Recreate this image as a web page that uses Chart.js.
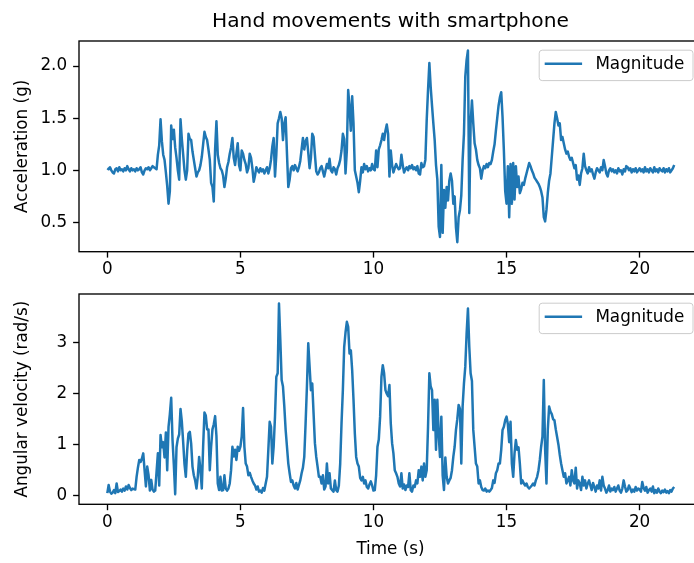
<!DOCTYPE html>
<html>
<head>
<meta charset="utf-8">
<title>Hand movements with smartphone</title>
<script src="https://cdn.jsdelivr.net/npm/chart.js@4.4.1/dist/chart.umd.min.js"></script>
<style>
  html, body { margin: 0; padding: 0; background: #fff; overflow: hidden; }
  body { width: 694px; height: 563px; position: relative; }
  canvas { position: absolute; left: 0; }
  #accelChart { top: 0; }
  #gyroChart { top: 263px; }
</style>
</head>
<body>
<canvas id="accelChart" width="702" height="280"></canvas>
<canvas id="gyroChart" width="702" height="300"></canvas>
<script>
// Smartphone sensor recording, sampled every 50 ms
const chartTitle = 'Hand movements with smartphone';
const seriesLabel = 'Magnitude';
const sampleStep = 0.05; // seconds between samples

const timeTicks = [0, 5, 10, 15, 20];
const accelTicks = [0.5, 1.0, 1.5, 2.0];
const gyroTicks = [0, 1, 2, 3];

// acceleration magnitude (g), one row per second
const accelMagnitude = [
  1.02, 1.01, 1.03, 1.00, 0.98, 0.97, 1.01, 1.02, 0.99, 1.03, 1.00, 1.01, 0.99, 1.02, 1.00, 1.04, 1.01, 0.99, 1.02, 1.00,
  1.01, 0.99, 1.02, 1.00, 1.01, 1.03, 0.98, 0.96, 1.00, 1.02, 1.01, 1.03, 1.00, 1.02, 1.04, 1.03, 1.02, 1.01, 1.15, 1.24,
  1.49, 1.28, 1.15, 1.10, 0.98, 0.85, 0.68, 0.80, 1.43, 1.30, 1.39, 1.22, 1.12, 1.00, 0.91, 1.49, 1.30, 1.15, 1.00, 0.91,
  1.00, 1.35, 1.30, 1.29, 1.18, 1.10, 1.02, 0.94, 0.98, 1.00, 1.05, 1.13, 1.25, 1.37, 1.32, 1.29, 1.20, 1.10, 0.88, 0.84,
  0.70, 1.20, 1.47, 1.15, 1.07, 1.02, 1.00, 0.95, 0.84, 0.92, 1.03, 1.08, 1.16, 1.22, 1.31, 1.12, 1.05, 1.16, 1.26, 1.05,
  1.00, 1.19, 1.16, 1.10, 1.06, 0.98, 1.02, 1.16, 1.12, 1.02, 0.89, 0.95, 1.03, 1.00, 0.98, 1.02, 0.99, 1.01, 0.97, 1.00,
  1.03, 0.97, 1.02, 1.10, 1.23, 1.31, 0.94, 1.15, 1.45, 1.50, 1.56, 1.50, 1.29, 1.45, 1.51, 1.16, 0.84, 0.91, 1.02, 1.04,
  1.00, 1.05, 1.02, 0.99, 1.03, 1.09, 1.20, 1.31, 1.20, 1.28, 1.31, 1.17, 1.02, 1.12, 1.35, 1.32, 1.15, 0.99, 0.96, 0.98,
  1.02, 1.04, 0.99, 0.94, 1.00, 1.06, 1.02, 1.11, 1.00, 0.98, 1.03, 1.01, 0.96, 1.02, 1.05, 1.10, 1.19, 1.35, 1.30, 0.97,
  1.19, 1.77, 1.61, 1.38, 1.71, 1.45, 1.00, 0.94, 0.88, 0.79, 0.90, 1.03, 0.98, 1.06, 1.01, 1.04, 0.99, 1.02, 1.00, 1.06,
  1.01, 1.00, 1.19, 1.03, 1.20, 1.24, 1.29, 1.35, 1.29, 1.38, 1.44, 1.35, 0.94, 1.19, 1.05, 0.98, 1.02, 1.06, 1.03, 1.01,
  1.02, 1.15, 1.05, 0.98, 1.01, 1.03, 1.00, 1.04, 1.02, 1.05, 1.01, 1.03, 1.00, 1.04, 0.97, 0.96, 1.07, 1.03, 1.04, 1.10,
  1.48, 1.77, 2.03, 1.80, 1.62, 1.45, 1.29, 1.05, 0.91, 0.46, 0.36, 1.05, 0.40, 0.81, 0.64, 0.84, 0.71, 0.90, 0.97, 0.90,
  0.68, 0.75, 0.45, 0.31, 0.55, 0.62, 0.76, 1.10, 1.35, 1.90, 2.06, 2.15, 0.59, 1.45, 1.67, 1.45, 1.26, 1.20, 1.10, 1.05,
  1.02, 0.92, 1.00, 1.04, 1.02, 1.06, 1.03, 1.07, 1.06, 1.10, 1.18, 1.25, 1.38, 1.50, 1.62, 1.70, 1.75, 1.51, 1.19, 0.80,
  0.68, 1.04, 0.55, 1.06, 0.68, 1.07, 0.72, 1.04, 0.84, 0.94, 0.78, 0.82, 0.88, 0.86, 0.92, 0.97, 1.02, 1.07, 1.04, 1.00,
  0.97, 0.93, 0.91, 0.89, 0.87, 0.84, 0.80, 0.74, 0.55, 0.51, 0.62, 0.78, 0.90, 0.97, 1.13, 1.29, 1.45, 1.56, 1.50, 1.43,
  1.45, 1.29, 1.32, 1.26, 1.20, 1.16, 1.18, 1.13, 1.10, 1.12, 1.07, 1.02, 1.05, 0.91, 0.95, 0.86, 0.97, 1.02, 1.16, 1.04,
  1.00, 0.97, 1.03, 0.99, 1.01, 0.96, 0.92, 0.98, 1.02, 1.00, 0.98, 1.03, 1.00, 1.10, 1.04, 0.97, 0.94, 1.00, 1.02, 0.99,
  1.01, 0.98, 1.00, 0.97, 1.02, 0.99, 1.00, 0.96, 1.01, 0.99, 1.04, 1.03, 1.00, 1.02, 0.98, 1.01, 0.99, 1.02, 0.98, 1.00,
  1.02, 0.99, 1.01, 0.98, 1.03, 0.99, 1.01, 0.98, 1.02, 1.00, 0.98, 1.03, 0.99, 1.01, 0.98, 1.02, 1.00, 0.99, 1.02, 0.98,
  1.01, 0.99, 1.02, 0.98, 1.00, 1.02, 1.05
];

// angular velocity magnitude (rad/s), one row per second
const gyroMagnitude = [
  0.05, 0.21, 0.08, 0.04, 0.06, 0.11, 0.05, 0.24, 0.07, 0.09, 0.12, 0.08, 0.14, 0.10, 0.18, 0.12, 0.21, 0.15, 0.11, 0.14,
  0.13, 0.12, 0.37, 0.55, 0.70, 0.66, 0.73, 0.83, 0.50, 0.18, 0.57, 0.40, 0.10, 0.31, 0.12, 0.08, 0.10, 0.47, 0.83, 0.20,
  1.19, 0.95, 1.05, 0.75, 1.24, 0.50, 1.35, 1.60, 1.92, 1.09, 0.60, 0.03, 0.95, 1.12, 1.20, 1.70, 1.45, 1.05, 0.62, 0.37,
  0.88, 1.22, 1.25, 1.02, 0.57, 0.40, 0.30, 0.14, 0.38, 0.76, 0.50, 0.14, 0.96, 1.63, 1.57, 1.30, 1.30, 0.50, 0.96, 1.30,
  1.40, 1.56, 1.17, 0.24, 0.11, 0.37, 0.10, 0.11, 0.40, 0.14, 0.10, 0.14, 0.24, 0.50, 0.96, 0.77, 0.90, 0.70, 0.96, 0.88,
  0.96, 1.16, 1.72, 0.96, 0.63, 0.57, 0.40, 0.45, 0.37, 0.30, 0.24, 0.20, 0.12, 0.18, 0.08, 0.10, 0.06, 0.15, 0.10, 0.24,
  0.37, 0.90, 1.45, 1.35, 0.63, 0.96, 1.55, 2.33, 2.40, 3.77, 3.05, 2.27, 2.14, 1.75, 1.29, 0.96, 0.63, 0.44, 0.27, 0.30,
  0.20, 0.14, 0.25, 0.12, 0.21, 0.30, 0.44, 0.55, 0.76, 1.42, 2.14, 2.99, 2.53, 2.07, 2.20, 1.61, 1.03, 0.76, 0.57, 0.37,
  0.37, 0.24, 0.40, 0.12, 0.18, 0.63, 0.24, 0.44, 0.14, 0.11, 0.08, 0.30, 0.11, 0.08, 0.20, 0.63, 1.42, 2.07, 2.92, 3.20,
  3.41, 3.31, 2.79, 2.85, 2.46, 1.88, 1.22, 0.76, 0.63, 0.57, 0.35, 0.30, 0.37, 0.24, 0.30, 0.17, 0.14, 0.22, 0.28, 0.20,
  0.10, 0.11, 0.40, 0.96, 1.10, 1.55, 2.33, 2.56, 2.40, 2.07, 2.00, 1.95, 2.17, 1.42, 1.03, 0.83, 0.50, 0.44, 0.37, 0.24,
  0.18, 0.44, 0.14, 0.22, 0.11, 0.20, 0.17, 0.44, 0.11, 0.08, 0.20, 0.17, 0.30, 0.24, 0.50, 0.37, 0.57, 0.30, 0.63, 0.37,
  0.50, 1.35, 2.40, 2.14, 2.07, 1.29, 1.88, 0.90, 1.88, 1.20, 0.76, 1.55, 0.40, 0.11, 0.75, 0.37, 0.24, 0.30, 0.35, 0.50,
  0.76, 0.96, 1.29, 1.50, 1.78, 1.70, 0.63, 1.75, 2.20, 2.53, 3.18, 3.67, 2.92, 2.40, 2.25, 1.29, 0.96, 0.63, 0.57, 0.24,
  0.30, 0.17, 0.11, 0.10, 0.14, 0.08, 0.10, 0.08, 0.11, 0.15, 0.30, 0.25, 0.44, 0.50, 0.63, 0.63, 0.90, 1.29, 1.35, 1.48,
  1.55, 1.40, 1.05, 1.45, 0.63, 0.37, 0.83, 1.09, 0.90, 0.95, 0.63, 0.24, 0.30, 0.24, 0.20, 0.24, 0.17, 0.14, 0.17, 0.20,
  0.24, 0.20, 0.30, 0.37, 0.50, 0.70, 0.96, 1.16, 2.27, 0.90, 0.24, 1.29, 1.75, 1.65, 1.60, 1.50, 1.48, 1.30, 1.15, 1.00,
  0.80, 0.63, 0.50, 0.37, 0.44, 0.24, 0.30, 0.37, 0.20, 0.50, 0.30, 0.24, 0.55, 0.14, 0.30, 0.24, 0.11, 0.37, 0.20, 0.30,
  0.14, 0.24, 0.30, 0.20, 0.11, 0.25, 0.17, 0.08, 0.20, 0.14, 0.30, 0.10, 0.37, 0.20, 0.14, 0.06, 0.11, 0.20, 0.08, 0.14,
  0.11, 0.17, 0.08, 0.14, 0.20, 0.10, 0.06, 0.14, 0.30, 0.18, 0.08, 0.11, 0.20, 0.14, 0.07, 0.12, 0.08, 0.17, 0.10, 0.14,
  0.12, 0.08, 0.27, 0.15, 0.10, 0.17, 0.06, 0.11, 0.14, 0.08, 0.18, 0.05, 0.11, 0.06, 0.14, 0.08, 0.05, 0.10, 0.07, 0.12,
  0.06, 0.09, 0.05, 0.11, 0.08, 0.14, 0.17
];

const FONT = "'DejaVu Sans', sans-serif";
const LABEL_SIZE = 16.8;
const TITLE_SIZE = 20.2;
const LINE_BLUE = '#1f77b4';
const LINE_W = 2.5;
const SPINE_W = 1.35;

Chart.defaults.font.family = FONT;
Chart.defaults.color = '#000';

// black box around the plot area, title above it and a framed legend inside it
const axesDecor = {
  id: 'axesDecor',
  afterDraw(chart, args, opts) {
    const { ctx, chartArea: a } = chart;
    ctx.save();
    ctx.strokeStyle = '#000';
    ctx.lineWidth = SPINE_W;
    ctx.strokeRect(a.left, a.top, a.right - a.left, a.bottom - a.top);

    if (opts.title) {
      ctx.font = TITLE_SIZE + 'px ' + FONT;
      ctx.fillStyle = '#000';
      ctx.textAlign = 'center';
      ctx.textBaseline = 'alphabetic';
      ctx.fillText(opts.title, (a.left + a.right) / 2, a.top - 14.5);
    }

    const ds = chart.data.datasets[0];
    ctx.font = LABEL_SIZE + 'px ' + FONT;
    const textW = ctx.measureText(ds.label).width;
    const boxW = 5.5 + 37.4 + 13.3 + textW + 8.7;
    const boxH = 30.4;
    const right = a.right - 9;
    const top = a.top + 9.2;
    const left = right - boxW;
    ctx.beginPath();
    ctx.roundRect(left, top, boxW, boxH, 3);
    ctx.fillStyle = 'rgba(255,255,255,0.8)';
    ctx.fill();
    ctx.strokeStyle = '#cccccc';
    ctx.lineWidth = 1;
    ctx.stroke();

    const midY = top + 13.5;
    ctx.beginPath();
    ctx.moveTo(left + 5.5, midY);
    ctx.lineTo(left + 42.9, midY);
    ctx.strokeStyle = ds.borderColor;
    ctx.lineWidth = LINE_W;
    ctx.stroke();

    ctx.fillStyle = '#000';
    ctx.textAlign = 'left';
    ctx.textBaseline = 'middle';
    ctx.fillText(ds.label, left + 56.2, midY + 1);
    ctx.restore();
  }
};

function makePanel(canvasId, values, yTicks, yMin, yMax, yLabel, cfg) {
  const points = values.map((v, i) => ({ x: +(i * sampleStep).toFixed(2), y: v }));
  const tickFont = { family: FONT, size: LABEL_SIZE };
  const tickGrid = {
    drawOnChartArea: false, drawTicks: true,
    tickLength: 5.9, tickWidth: SPINE_W, tickColor: '#000'
  };
  return new Chart(document.getElementById(canvasId), {
    type: 'line',
    data: {
      datasets: [{
        label: seriesLabel,
        data: points,
        borderColor: LINE_BLUE,
        borderWidth: LINE_W,
        borderJoinStyle: 'round',
        pointRadius: 0,
        tension: 0,
        fill: false
      }]
    },
    plugins: [axesDecor],
    options: {
      responsive: false,
      devicePixelRatio: 1,
      animation: false,
      events: [],
      layout: { padding: { top: cfg.padTop, left: 0, right: 0, bottom: 0 } },
      plugins: {
        legend: { display: false },
        tooltip: { enabled: false },
        axesDecor: { title: cfg.title || null }
      },
      scales: {
        x: {
          type: 'linear',
          min: -1.064,
          max: 22.344,
          afterBuildTicks: s => { s.ticks = timeTicks.map(v => ({ value: v })); },
          afterFit: s => { s.height = cfg.xAxisHeight; },
          border: { display: false },
          grid: tickGrid,
          ticks: {
            color: '#000', font: tickFont, padding: 2, maxRotation: 0, autoSkip: false,
            callback: v => String(v)
          },
          title: {
            display: !!cfg.xLabel,
            text: cfg.xLabel || '',
            color: '#000',
            font: tickFont,
            padding: { top: 0, bottom: 3 }
          }
        },
        y: {
          min: yMin,
          max: yMax,
          afterBuildTicks: s => { s.ticks = yTicks.map(v => ({ value: v })); },
          afterFit: s => { s.width = 79; },
          border: { display: false },
          grid: tickGrid,
          ticks: {
            color: '#000', font: tickFont, padding: 6, autoSkip: false,
            callback: v => v.toFixed(cfg.tickDigits)
          },
          title: {
            display: true,
            text: yLabel,
            color: '#000',
            font: tickFont,
            padding: { top: 13, bottom: 0 }
          }
        }
      }
    }
  });
}

makePanel('accelChart', accelMagnitude, accelTicks, 0.219, 2.241, 'Acceleration (g)', {
  padTop: 41, xAxisHeight: 28.3, tickDigits: 1, title: chartTitle
});

makePanel('gyroChart', gyroMagnitude, gyroTicks, -0.169, 3.955, 'Angular velocity (rad/s)', {
  padTop: 31, xAxisHeight: 58.7, tickDigits: 0, xLabel: 'Time (s)'
});
</script>
</body>
</html>
